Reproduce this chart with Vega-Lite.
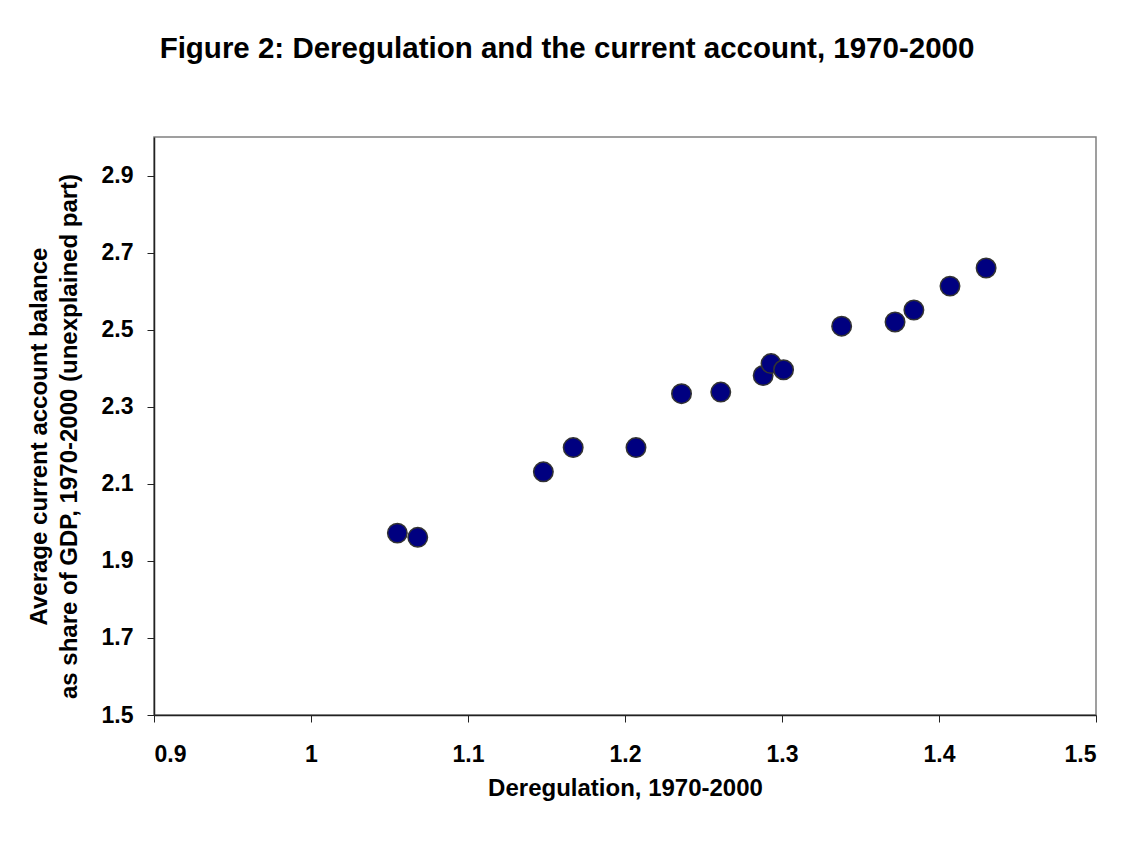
{
  "$schema": "https://vega.github.io/schema/vega-lite/v6.json",
  "width": 942,
  "height": 578,
  "autosize": {"type": "none"},
  "padding": {"left": 154, "top": 137, "right": 37, "bottom": 126},
  "background": "white",
  "title": {
    "text": "Figure 2: Deregulation and the current account, 1970-2000",
    "font": "Liberation Sans",
    "fontSize": 29.5,
    "fontWeight": "bold",
    "color": "black",
    "anchor": "middle",
    "frame": "group",
    "dx": -58,
    "offset": 73
  },
  "data": {
    "values": [
      {"deregulation": 1.055, "current_account": 1.972},
      {"deregulation": 1.068, "current_account": 1.961},
      {"deregulation": 1.148, "current_account": 2.131},
      {"deregulation": 1.167, "current_account": 2.194},
      {"deregulation": 1.207, "current_account": 2.194},
      {"deregulation": 1.236, "current_account": 2.334},
      {"deregulation": 1.261, "current_account": 2.338},
      {"deregulation": 1.288, "current_account": 2.381},
      {"deregulation": 1.293, "current_account": 2.412},
      {"deregulation": 1.301, "current_account": 2.396},
      {"deregulation": 1.338, "current_account": 2.509},
      {"deregulation": 1.372, "current_account": 2.520},
      {"deregulation": 1.384, "current_account": 2.551},
      {"deregulation": 1.407, "current_account": 2.613},
      {"deregulation": 1.430, "current_account": 2.660}
    ]
  },
  "mark": {
    "type": "point",
    "shape": "circle",
    "filled": true,
    "size": 380,
    "fill": "#000080",
    "stroke": "#333333",
    "strokeWidth": 1.5,
    "opacity": 1
  },
  "encoding": {
    "x": {
      "field": "deregulation",
      "type": "quantitative",
      "scale": {"domain": [0.9, 1.5], "nice": false, "zero": false},
      "axis": {
        "title": "Deregulation, 1970-2000",
        "values": [0.9, 1.0, 1.1, 1.2, 1.3, 1.4, 1.5],
        "format": "~g",
        "titleY": 61,
        "titleBaseline": "top",
        "labelPadding": 21
      }
    },
    "y": {
      "field": "current_account",
      "type": "quantitative",
      "scale": {"domain": [1.5, 3.0], "nice": false, "zero": false},
      "axis": {
        "title": ["Average current account balance", "as share of GDP, 1970-2000 (unexplained part)"],
        "values": [1.5, 1.7, 1.9, 2.1, 2.3, 2.5, 2.7, 2.9],
        "format": "~g",
        "labelPadding": 14,
        "titleX": -103,
        "titleY": 299,
        "titleBaseline": "bottom",
        "titleLineHeight": 30
      }
    }
  },
  "config": {
    "view": {"stroke": "#808080", "strokeWidth": 1.5},
    "axis": {
      "grid": false,
      "domainColor": "#222222",
      "domainWidth": 1.5,
      "tickColor": "#222222",
      "tickSize": 7,
      "tickWidth": 1,
      "labelFont": "Liberation Sans",
      "labelFontSize": 23,
      "labelFontWeight": "bold",
      "labelColor": "black",
      "titleFont": "Liberation Sans",
      "titleFontSize": 24,
      "titleFontWeight": "bold",
      "titleColor": "black"
    }
  }
}
